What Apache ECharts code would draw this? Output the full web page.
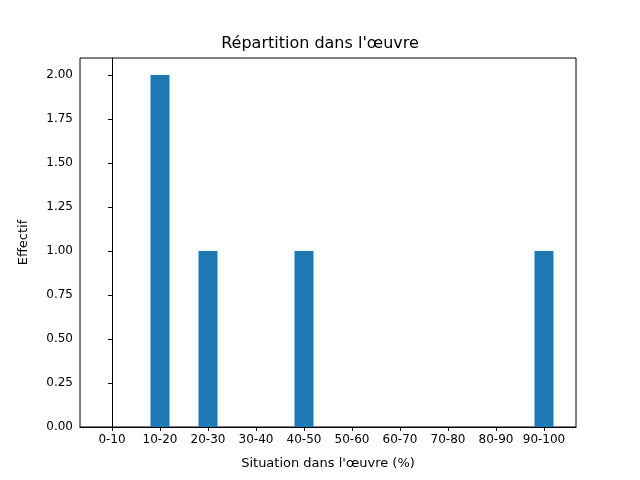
<!DOCTYPE html>
<html><head><meta charset="utf-8">
<script src="https://cdn.jsdelivr.net/npm/echarts@6/dist/echarts.min.js"></script>
<style>html,body{margin:0;padding:0;background:#fff}#c{width:640px;height:480px}</style>
</head><body><div id="c"></div>
<script>
const categories = ['0-10','10-20','20-30','30-40','40-50','50-60','60-70','70-80','80-90','90-100'];
const values = [0,2,1,0,1,0,0,0,0,1];
const yTicks = [0,0.25,0.5,0.75,1,1.25,1.5,1.75,2];

const chart = echarts.init(document.getElementById('c'));
const font = 'DejaVu Sans';
chart.setOption({
  animation:false,
  textStyle:{fontFamily:font},
  title:{text:"Répartition dans l'œuvre",left:'center',top:31,textStyle:{fontFamily:font,fontSize:16,fontWeight:'normal',color:'#000'}},
  grid:{left:80,right:64,top:58,bottom:53,show:true,borderColor:'#000',borderWidth:1,containLabel:false},
  xAxis:{type:'value',min:-0.6667,max:9.6667,
    name:"Situation dans l'œuvre (%)",nameLocation:'middle',nameGap:30,nameTextStyle:{fontSize:13,color:'#000',fontFamily:font},
    axisLine:{show:true,lineStyle:{color:'#000'}},
    axisTick:{show:true,customValues:categories.map((_,i)=>i),length:4,lineStyle:{color:'#000'}},
    axisLabel:{customValues:categories.map((_,i)=>i),formatter:v=>categories[Math.round(v)],color:'#000',fontSize:12,margin:7},
    splitLine:{show:false}},
  yAxis:{type:'value',min:0,max:2.0966,
    name:'Effectif',nameLocation:'middle',nameGap:50,nameTextStyle:{fontSize:13,color:'#000',fontFamily:font},
    axisLine:{show:true,lineStyle:{color:'#000'}},
    axisTick:{show:true,customValues:yTicks,length:4,inside:false,lineStyle:{color:'#000'}},
    axisLabel:{customValues:yTicks,formatter:v=>v.toFixed(2),color:'#000',fontSize:12,margin:7},
    splitLine:{show:false}},
  series:[{type:'bar',barWidth:19,itemStyle:{color:'#1f77b4'},
    data:values.map((v,i)=>[i,v])}]
});
</script></body></html>
